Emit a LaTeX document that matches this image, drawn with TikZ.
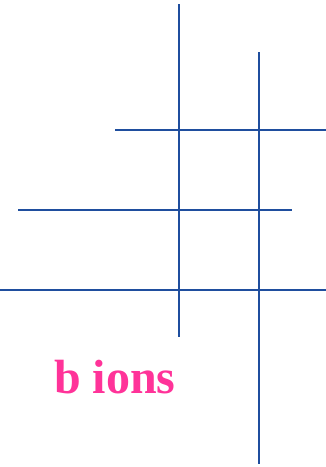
\documentclass[tikz,border=0pt]{standalone}
\usepackage{fontspec}
\setmainfont{Liberation Serif}
\definecolor{lineblue}{HTML}{1F4E9E}
\definecolor{ionpink}{HTML}{FF3399}
\begin{document}
\begin{tikzpicture}[x=1pt, y=-1pt, line cap=butt]
    \useasboundingbox (0,0) rectangle (326,467);
    % fragment lines
    \draw[lineblue, line width=2.4pt] (179,4) -- (179,337);
    \draw[lineblue, line width=2.4pt] (259,52) -- (259,464);
    \draw[lineblue, line width=2.4pt] (115,130) -- (326,130);
    \draw[lineblue, line width=2.4pt] (18,210) -- (292,210);
    \draw[lineblue, line width=2.4pt] (0,290) -- (326,290);
    \node[anchor=base west, inner sep=0, text=ionpink, font=\fontsize{48}{52}\selectfont\bfseries] (label) at (54,393) {b ions};
  \end{tikzpicture}
\end{document}
